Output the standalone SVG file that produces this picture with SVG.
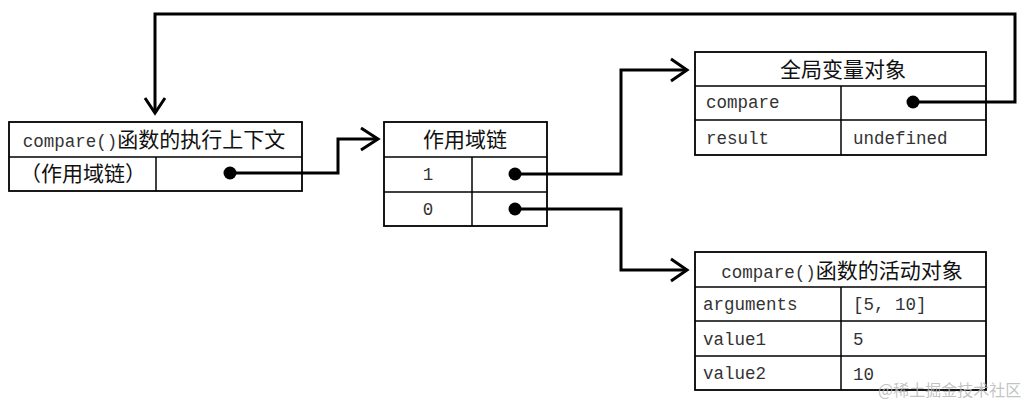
<svg xmlns="http://www.w3.org/2000/svg" width="1027" height="403" viewBox="0 0 1027 403">
<style>
.box{fill:#fff;stroke:#000;stroke-width:1.8}
.div{stroke:#000;stroke-width:1.5;fill:none}
.conn{stroke:#000;stroke-width:3;fill:none;stroke-linejoin:miter}
.head{stroke:#000;stroke-width:3;fill:none}
.dot{fill:#000}
.cjk{font-family:"Noto Sans CJK SC","Noto Sans",sans-serif;font-size:21px;fill:#111}
.mono{font-family:"Liberation Mono","DejaVu Sans Mono",monospace;font-size:17.5px;fill:#333}
.wm{font-family:"Noto Sans CJK SC",sans-serif;font-size:16px;fill:#b8b8b8;fill-opacity:0.85}
</style>
<g id="exec-context">
<rect class="box" x="9" y="122" width="293" height="69"/>
<line class="div" x1="9" y1="157" x2="302" y2="157"/>
<line class="div" x1="156" y1="157" x2="156" y2="191"/>
<text x="154" y="147" text-anchor="middle"><tspan class="mono" font-size="18px">compare()</tspan><tspan class="cjk" font-size="22px">函数的执行上下文</tspan></text>
<text class="cjk" x="83" y="181" text-anchor="middle" font-size="20px">（作用域链）</text>
<circle class="dot" cx="230" cy="173" r="6.5"/>
</g>
<g id="scope-chain">
<rect class="box" x="384" y="122" width="163" height="104"/>
<line class="div" x1="384" y1="157" x2="547" y2="157"/>
<line class="div" x1="384" y1="192" x2="547" y2="192"/>
<line class="div" x1="472" y1="157" x2="472" y2="226"/>
<text class="cjk" x="465" y="147" text-anchor="middle">作用域链</text>
<text class="mono" x="428" y="180" text-anchor="middle">1</text>
<text class="mono" x="428" y="215" text-anchor="middle">0</text>
<circle class="dot" cx="515" cy="174" r="6.5"/>
<circle class="dot" cx="515" cy="209" r="6.5"/>
</g>
<g id="global-object">
<rect class="box" x="695" y="52" width="291" height="103"/>
<line class="div" x1="695" y1="86" x2="986" y2="86"/>
<line class="div" x1="695" y1="120" x2="986" y2="120"/>
<line class="div" x1="841" y1="86" x2="841" y2="155"/>
<text class="cjk" x="843" y="77" text-anchor="middle">全局变量对象</text>
<text class="mono" x="706" y="108">compare</text>
<text class="mono" x="706" y="144">result</text>
<text class="mono" x="853" y="144">undefined</text>
<circle class="dot" cx="913" cy="102" r="6.5"/>
</g>
<g id="activation-object">
<rect class="box" x="695" y="252" width="291" height="138"/>
<line class="div" x1="695" y1="287" x2="986" y2="287"/>
<line class="div" x1="695" y1="321" x2="986" y2="321"/>
<line class="div" x1="695" y1="356" x2="986" y2="356"/>
<line class="div" x1="841" y1="287" x2="841" y2="390"/>
<text x="842" y="278" text-anchor="middle"><tspan class="mono" font-size="18px">compare()</tspan><tspan class="cjk" font-size="22px">函数的活动对象</tspan></text>
<text class="mono" x="703" y="310">arguments</text>
<text class="mono" x="853" y="310">[5, 10]</text>
<text class="mono" x="703" y="345">value1</text>
<text class="mono" x="853" y="345">5</text>
<text class="mono" x="703" y="379">value2</text>
<text class="mono" x="853" y="380">10</text>
</g>
<g id="connectors">
<polyline class="conn" points="230,173 338,173 338,139 377,139"/>
<polyline class="head" points="361,128 378,139 361,150"/>
<polyline class="conn" points="515,174 621,174 621,70 686,70"/>
<polyline class="head" points="671,59 687,70 671,81"/>
<polyline class="conn" points="515,209 621,209 621,270 686,270"/>
<polyline class="head" points="671,259 687,270 671,281"/>
<polyline class="conn" points="913,102 1015,102 1015,14 155,14 155,112"/>
<polyline class="head" points="145,98 155,113 165,98"/>
</g>
<text class="wm" x="878" y="396">@稀土掘金技术社区</text>
</svg>
